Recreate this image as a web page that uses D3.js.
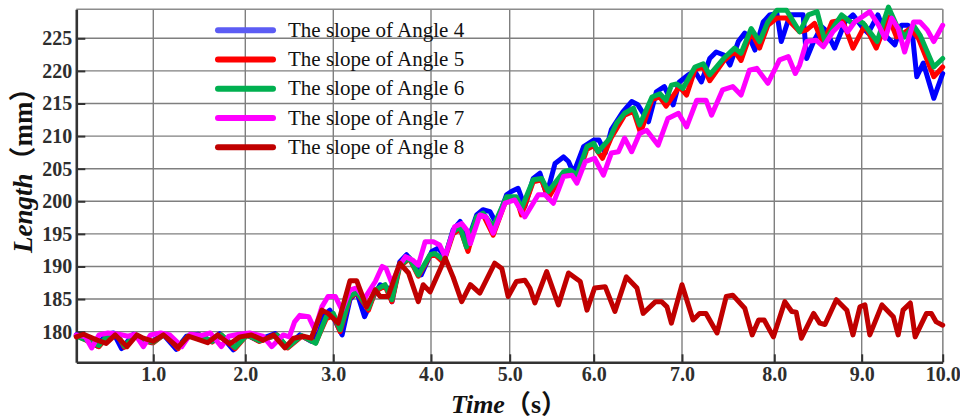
<!DOCTYPE html>
<html><head><meta charset="utf-8">
<script src="https://cdn.jsdelivr.net/npm/d3@7"></script>
<style>body{margin:0;background:#fff}svg{display:block}</style>
</head><body>
<svg id="c" width="960" height="418"></svg>
<script>
// ---------------- data ----------------
const xTicks = [1, 2, 3, 4, 5, 6, 7, 8, 9, 10];
const xTickLabels = ["1.0", "2.0", "3.0", "4.0", "5.0", "6.0", "7.0", "8.0", "9.0", "10.0"];
const yTicks = [180, 185, 190, 195, 200, 205, 210, 215, 220, 225];
const seriesNames = ["The slope of Angle 4", "The slope of Angle 5", "The slope of Angle 6", "The slope of Angle 7", "The slope of Angle 8"];

// [time (s), length (mm)]
const angle4 = [[0.15,179.5],[0.28,178.8],[0.38,177.8],[0.48,179.6],[0.56,179.8],[0.65,177.4],[0.78,179.6],[0.90,178.8],[0.98,178.3],[1.10,179.7],[1.25,177.3],[1.36,179.3],[1.49,179.6],[1.62,178.6],[1.72,179.7],[1.87,177.2],[2.00,179.6],[2.14,178.7],[2.34,179.7],[2.47,177.7],[2.62,179.5],[2.75,178.5],
[2.87,182.3],[2.96,183.3],[3.09,179.5],[3.17,184.9],[3.24,186.1],[3.32,182.3],[3.41,185.4],[3.48,187.2],[3.56,186.7],[3.60,184.6],[3.68,190.7],[3.75,191.8],[3.85,190.0],[3.90,188.7],[4.01,192.3],[4.09,192.8],[4.18,191.5],[4.28,195.6],[4.37,196.9],[4.45,193.3],[4.58,197.9],[4.66,198.7],[4.75,198.4],[4.83,196.6],[4.96,201.0],[5.02,201.5],[5.10,202.0],[5.18,199.2],[5.28,203.5],[5.36,204.3],[5.44,201.0],[5.54,205.8],[5.64,206.8],[5.70,206.1],[5.76,204.3],[5.88,208.4],[6.00,209.4],[6.06,209.4],[6.13,207.4],[6.20,211.0],[6.33,213.7],[6.43,215.3],[6.50,214.8],[6.62,212.2],[6.71,216.8],[6.80,217.6],[6.90,214.8],[6.97,218.3],[7.07,219.4],[7.14,219.9],[7.21,218.3],[7.30,221.9],[7.37,222.9],[7.46,222.4],[7.52,220.9],[7.61,224.5],[7.68,225.8],[7.74,224.8],[7.79,223.2],[7.88,227.5],[7.95,228.6],[8.03,228.8],[8.08,224.5],[8.18,228.6],[8.33,228.6],[8.37,221.9],[8.45,224.5],[8.54,226.8],[8.59,226.2],[8.69,223.5],[8.81,227.5],[8.90,228.6],[9.02,226.5],[9.08,225.8],[9.20,228.6],[9.31,225.2],[9.41,224.0],[9.49,227.0],[9.57,227.0],[9.62,226.3],[9.68,219.1],[9.76,221.2],[9.89,215.8],[10.0,219.6]];

const angle5 = [[0.15,179.4],[0.30,178.4],[0.40,177.7],[0.50,179.4],[0.60,179.6],[0.68,177.6],[0.80,179.4],[0.92,178.5],[1.00,178.3],[1.12,179.6],[1.27,177.4],[1.38,179.2],[1.50,179.5],[1.64,178.4],[1.74,179.5],[1.89,177.4],[2.02,179.5],[2.16,178.5],[2.36,179.5],[2.48,177.5],[2.64,179.3],[2.80,178.3],
[2.92,182.0],[3.00,182.5],[3.07,180.0],[3.17,185.2],[3.24,186.0],[3.36,183.3],[3.43,186.2],[3.53,187.0],[3.60,184.6],[3.68,190.0],[3.78,191.2],[3.87,188.5],[3.99,191.6],[4.05,191.8],[4.16,190.6],[4.28,195.0],[4.37,195.8],[4.47,192.3],[4.58,197.3],[4.66,198.0],[4.79,194.8],[4.96,200.4],[5.08,200.5],[5.14,197.9],[5.28,203.0],[5.38,203.3],[5.46,200.5],[5.64,204.3],[5.72,204.6],[5.80,203.5],[5.92,208.0],[6.00,208.5],[6.10,206.6],[6.20,209.8],[6.35,213.2],[6.45,213.8],[6.53,210.5],[6.66,215.6],[6.75,216.0],[6.82,214.6],[6.97,217.6],[7.05,216.3],[7.14,220.2],[7.23,220.6],[7.30,218.5],[7.45,221.5],[7.57,223.0],[7.64,221.6],[7.75,226.0],[7.84,223.5],[7.93,227.0],[8.03,228.1],[8.14,228.1],[8.29,226.0],[8.37,226.3],[8.46,227.3],[8.56,224.2],[8.66,227.5],[8.78,227.8],[8.90,223.5],[9.04,227.0],[9.18,223.5],[9.33,228.3],[9.43,225.2],[9.52,225.8],[9.60,226.5],[9.70,225.0],[9.89,219.1],[10.0,220.6]];

const angle6 = [[0.15,179.3],[0.30,178.5],[0.40,177.9],[0.50,179.5],[0.60,179.6],[0.68,177.8],[0.80,179.5],[0.92,178.6],[1.00,178.4],[1.12,179.6],[1.27,177.6],[1.38,179.3],[1.50,179.5],[1.64,178.5],[1.74,179.5],[1.89,177.6],[2.02,179.5],[2.16,178.6],[2.36,179.5],[2.48,177.6],[2.64,179.4],[2.80,178.2],
[2.92,182.3],[3.00,182.8],[3.07,180.3],[3.17,185.4],[3.24,186.1],[3.36,183.6],[3.43,186.4],[3.53,187.2],[3.60,184.9],[3.68,190.2],[3.78,191.3],[3.87,188.7],[3.99,191.8],[4.05,192.0],[4.16,191.0],[4.28,195.3],[4.37,196.1],[4.45,193.0],[4.58,197.6],[4.66,198.2],[4.79,196.1],[4.96,200.7],[5.08,200.7],[5.14,198.9],[5.28,203.3],[5.38,203.5],[5.46,201.5],[5.64,204.5],[5.72,204.8],[5.80,204.0],[5.92,208.4],[6.00,208.9],[6.05,207.6],[6.18,209.6],[6.26,212.0],[6.35,213.5],[6.45,214.3],[6.52,211.7],[6.66,216.0],[6.75,216.5],[6.82,215.5],[6.88,217.8],[6.94,218.0],[7.01,217.3],[7.14,220.6],[7.23,221.1],[7.30,219.4],[7.45,221.9],[7.57,223.5],[7.64,222.7],[7.75,226.5],[7.84,224.5],[7.93,227.5],[8.03,229.3],[8.14,229.3],[8.29,226.0],[8.39,228.6],[8.49,229.1],[8.58,224.5],[8.69,227.0],[8.77,228.6],[8.89,227.3],[8.95,227.8],[9.02,227.3],[9.19,224.5],[9.33,229.8],[9.43,227.0],[9.53,225.2],[9.64,227.0],[9.72,225.5],[9.89,220.6],[10.0,221.9]];

const angle7 = [[0.15,179.5],[0.25,179.2],[0.32,177.5],[0.40,179.5],[0.50,179.8],[0.62,179.6],[0.72,179.3],[0.80,179.6],[0.89,177.7],[0.97,179.5],[1.08,179.8],[1.18,179.5],[1.31,177.7],[1.40,179.6],[1.52,179.4],[1.62,179.8],[1.74,177.7],[1.82,179.3],[1.93,179.6],[2.05,179.8],[2.20,179.3],[2.30,177.7],[2.43,179.5],[2.50,179.2],
[2.56,181.5],[2.62,182.5],[2.72,182.3],[2.79,180.3],[2.87,183.8],[2.94,185.4],[3.02,185.4],[3.09,183.3],[3.17,186.4],[3.24,186.7],[3.32,185.1],[3.43,187.7],[3.50,190.0],[3.54,189.7],[3.60,187.4],[3.68,190.2],[3.74,191.5],[3.81,191.0],[3.87,190.2],[3.94,193.8],[4.03,193.8],[4.11,193.3],[4.18,191.5],[4.30,196.1],[4.39,196.6],[4.46,195.5],[4.50,193.5],[4.62,197.9],[4.70,197.6],[4.79,195.1],[4.94,199.7],[5.06,200.2],[5.18,197.6],[5.34,201.0],[5.42,201.0],[5.52,199.7],[5.64,203.8],[5.74,204.0],[5.80,202.8],[5.90,206.1],[6.01,206.6],[6.11,204.0],[6.20,207.4],[6.28,207.6],[6.35,209.7],[6.43,207.6],[6.52,210.4],[6.60,210.9],[6.73,208.6],[6.84,212.7],[6.96,213.5],[7.05,211.4],[7.16,215.5],[7.26,215.5],[7.32,213.2],[7.44,217.1],[7.55,217.6],[7.64,216.3],[7.73,220.1],[7.81,220.4],[7.93,218.1],[8.06,221.7],[8.16,222.2],[8.24,219.6],[8.29,220.9],[8.37,224.5],[8.48,224.7],[8.56,223.7],[8.67,226.0],[8.77,227.3],[8.84,226.0],[8.92,227.5],[9.10,229.1],[9.21,227.0],[9.29,225.0],[9.37,228.1],[9.45,226.5],[9.53,222.9],[9.64,227.5],[9.72,227.5],[9.81,226.3],[9.89,224.5],[10.0,227.0]];

const angle8 = [[0.15,179.2],[0.23,179.6],[0.38,178.7],[0.48,178.2],[0.58,179.5],[0.71,177.7],[0.82,179.5],[0.89,179.0],[1.00,178.5],[1.11,179.5],[1.27,177.6],[1.38,179.3],[1.51,178.7],[1.59,178.3],[1.70,179.5],[1.83,178.1],[1.94,179.2],[2.07,179.5],[2.20,178.7],[2.32,179.5],[2.45,177.5],[2.55,179.0],[2.66,179.3],[2.75,179.0],
[2.87,183.3],[2.94,182.8],[3.05,181.3],[3.17,187.8],[3.24,187.8],[3.34,183.8],[3.43,186.4],[3.48,185.4],[3.56,185.4],[3.68,190.5],[3.77,189.0],[3.87,184.6],[3.92,187.2],[3.99,186.1],[4.18,191.3],[4.28,188.4],[4.39,184.6],[4.50,187.2],[4.62,185.9],[4.81,190.5],[4.90,189.7],[4.98,185.4],[5.08,187.7],[5.18,187.9],[5.24,186.7],[5.30,184.4],[5.44,189.2],[5.58,184.1],[5.70,189.0],[5.84,187.7],[5.92,183.3],[6.01,186.7],[6.13,186.9],[6.24,183.1],[6.37,188.4],[6.49,186.7],[6.56,182.8],[6.70,184.6],[6.77,184.6],[6.83,183.8],[6.88,181.3],[7.00,187.2],[7.12,181.8],[7.19,182.8],[7.26,182.8],[7.38,179.8],[7.48,185.4],[7.55,185.6],[7.68,183.6],[7.76,179.5],[7.83,181.8],[7.89,181.8],[7.99,179.2],[8.12,184.6],[8.20,183.1],[8.25,183.0],[8.31,179.0],[8.45,182.8],[8.52,181.3],[8.58,181.1],[8.71,184.9],[8.83,183.3],[8.90,179.5],[8.98,183.8],[9.04,184.1],[9.10,179.5],[9.25,184.1],[9.39,182.3],[9.45,179.5],[9.51,183.3],[9.60,184.4],[9.66,179.2],[9.80,182.8],[9.86,182.8],[9.92,181.5],[10.0,181.0]];

const seriesData = [angle4, angle5, angle6, angle7, angle8];
const lineColors = ["#0000ff", "#ff0000", "#00b050", "#ff00ff", "#c00000"];
const legendColors = ["#5c5cf4", "#ff0000", "#00b050", "#ff00ff", "#c00000"];

// ---------------- layout ----------------
const svg = d3.select("#c");
const P = {left: 76.3, right: 942.7, top: 9.3, bottom: 362.3};
// The reference's time axis is unevenly spaced: a piecewise-linear scale reproduces it
const xDomain = [0.15, 1, 2, 3, 4, 5, 6, 7, 8, 9, 10];
const xRange = [76.3, 153.3, 245.3, 333.3, 431, 509.7, 593.7, 682, 774.3, 861.7, 942.7];
const x = d3.scaleLinear().domain(xDomain).range(xRange);
const y = d3.scaleLinear().domain([175.3, 229.45]).range([P.bottom, P.top]);

const serif = "'Liberation Serif','Times New Roman',serif";
const cjk = "'Liberation Serif','Noto Sans CJK SC',serif";

// grid
const grid = svg.append("g");
grid.selectAll(".hg").data(yTicks).join("line")
  .attr("x1", P.left).attr("x2", P.right)
  .attr("y1", d => y(d)).attr("y2", d => y(d))
  .attr("stroke", "#7f7f7f").attr("stroke-width", 1.4);
grid.selectAll(".vg").data(xTicks).join("line")
  .attr("y1", P.top).attr("y2", P.bottom)
  .attr("x1", d => x(d)).attr("x2", d => x(d))
  .attr("stroke", "#7f7f7f").attr("stroke-width", 1.4);
// top and right frame
grid.append("line").attr("x1", P.left).attr("x2", P.right).attr("y1", P.top).attr("y2", P.top)
  .attr("stroke", "#8c8c8c").attr("stroke-width", 1.4);
grid.append("line").attr("x1", P.right).attr("x2", P.right).attr("y1", P.top).attr("y2", P.bottom)
  .attr("stroke", "#8c8c8c").attr("stroke-width", 1.4);

// axes
const yAxis = svg.append("g").attr("transform", `translate(${P.left},0)`)
  .call(d3.axisLeft(y).tickValues(yTicks).tickSizeInner(-9).tickSizeOuter(0).tickPadding(4).tickFormat(d3.format("d")));
const xAxis = svg.append("g").attr("transform", `translate(0,${P.bottom})`)
  .call(d3.axisBottom(x).tickValues(xTicks).tickSizeInner(-8).tickSizeOuter(0).tickPadding(5).tickFormat((d, i) => xTickLabels[i]));
[yAxis, xAxis].forEach(a => {
  a.attr("font-family", null);
  a.select(".domain").attr("stroke", "#333").attr("stroke-width", 2.6);
  a.selectAll(".tick line").attr("stroke", "#333").attr("stroke-width", 2);
  a.selectAll(".tick text").attr("fill", "#2e2e2e").style("font-family", serif)
    .style("font-weight", "bold").style("font-size", "20px");
});

// lines
const line = d3.line().x(d => x(d[0])).y(d => y(d[1]));
svg.append("g").selectAll("path").data(seriesData).join("path")
  .attr("d", line).attr("fill", "none")
  .attr("stroke", (d, i) => lineColors[i]).attr("stroke-width", 5)
  .attr("stroke-linejoin", "round").attr("stroke-linecap", "round");

// legend
const ly = d3.scaleLinear().domain([0, seriesNames.length - 1]).range([30.3, 147.3]);
const leg = svg.append("g");
const items = leg.selectAll("g").data(seriesNames).join("g");
items.append("line").attr("x1", 218).attr("x2", 273)
  .attr("y1", (d, i) => ly(i)).attr("y2", (d, i) => ly(i))
  .attr("stroke", (d, i) => legendColors[i]).attr("stroke-width", 6).attr("stroke-linecap", "round");
items.append("text").attr("x", 288).attr("y", (d, i) => ly(i) + 6.5)
  .style("font-family", serif).style("font-size", "21px").attr("fill", "#111")
  .text(d => d);

// axis titles
const xt = svg.append("text").attr("x", 451).attr("y", 413)
  .style("font-family", cjk).style("font-size", "26px").style("font-weight", "bold").attr("fill", "#111");
xt.append("tspan").style("font-style", "italic").text("Time");
xt.append("tspan").text("（s）");

const yt = svg.append("text").attr("transform", "translate(32,253) rotate(-90)")
  .style("font-family", cjk).style("font-size", "27px").style("font-weight", "bold").attr("fill", "#111");
yt.append("tspan").style("font-style", "italic").text("Length");
yt.append("tspan").text("（mm）");
</script>
</body></html>
